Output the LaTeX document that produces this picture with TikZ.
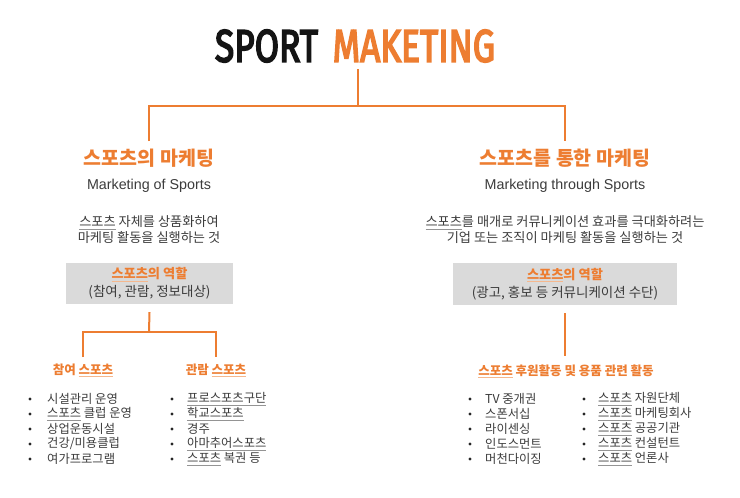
\documentclass[tikz,border=0pt]{standalone}
\usepackage{fontspec}
\usepackage{graphicx}
\setmainfont{Noto Sans CJK KR}
\newfontfamily\latinf{Liberation Sans}
\newfontfamily\titlef[FakeBold=4]{Fira Sans}
\definecolor{orng}{HTML}{ED7D31}
\definecolor{txt}{HTML}{3C3C3C}
\definecolor{boxg}{HTML}{DADADA}
\newcommand\sul[1]{{\setbox0=\hbox{#1}\rlap{\textcolor{.!55}{\rule[-2.4pt]{\wd0}{0.6pt}}}\box0}}
\tikzset{
  conn/.style={draw=orng, line width=2pt},
  head/.style={font=\fontsize{19.5}{22}\selectfont\bfseries, text=orng, inner sep=0},
  engsub/.style={font=\latinf\fontsize{14.3}{16}\selectfont, text=txt, inner sep=0},
  desc/.style={font=\fontsize{13.2}{16}\selectfont, text=txt, inner sep=0, align=center},
  rolebox/.style={fill=boxg, inner sep=0, align=center, font=\fontsize{13.5}{18}\selectfont, text=txt},
  subhead/.style={font=\fontsize{12.5}{14}\selectfont\bfseries, text=orng, inner sep=0},
  item/.style={font=\fontsize{12.3}{14}\selectfont, text=txt, inner sep=0, anchor=west},
  dot/.style={circle, fill=black!85, inner sep=0, minimum size=3.2pt},
}
\begin{document}
\begin{tikzpicture}[x=1pt,y=-1pt]
\useasboundingbox[fill=white] (0,0) rectangle (740,498);

% title
\node[inner sep=0] (title) at (355,46)
  {\resizebox{280pt}{32pt}{\titlef\textcolor{black!92}{SPORT}\hspace{0.15em} \textcolor{orng}{MAKETING}}};

\coordinate (j0) at (358,106);
\coordinate (l0) at (149,141);
\coordinate (r0) at (565,141);

% left branch
\node[head] (h1) at (149,158) {스포츠의 마케팅};
\node[engsub] (e1) at (149,186) {Marketing of Sports};
\node[desc] (d1) at (149,230) {\sul{스포츠} 자체를 상품화하여\\마케팅 활동을 실행하는 것};
\node[rolebox, minimum width=167pt, minimum height=41pt] (lbox) at (149.5,283.5)
  {\textcolor{orng}{\fontsize{13.2}{18}\selectfont\bfseries\sul{스포츠}의 역할}\\(참여, 관람, 정보대상)};

% right branch
\node[head] (h2) at (565,158) {스포츠를 통한 마케팅};
\node[engsub] (e2) at (565,186) {Marketing through Sports};
\node[desc] (d2) at (565,230) {\sul{스포츠}를 매개로 커뮤니케이션 효과를 극대화하려는\\기업 또는 조직이 마케팅 활동을 실행하는 것};
\node[rolebox, minimum width=224pt, minimum height=42pt] (rbox) at (565,284)
  {\textcolor{orng}{\fontsize{13.2}{18}\selectfont\bfseries\sul{스포츠}의 역할}\\(광고, 홍보 등 커뮤니케이션 수단)};

% top connectors
\draw[conn] ([yshift=-7pt]title.south -| j0) -- (j0);
\draw[conn] (l0) -- (l0 |- j0) -- (r0 |- j0) -- (r0);

% left sub-branch
\coordinate (lj) at (149,332);
\coordinate (s1top) at (83,357);
\coordinate (s2top) at (216,357);
\node[subhead] (s1) at (83,370) {참여 \sul{스포츠}};
\node[subhead] (s2) at (216,370) {관람 \sul{스포츠}};
\draw[conn] ([yshift=-8pt]lbox.south) -- (lj);
\draw[conn] (s1top) -- (s1top |- lj) -- (s2top |- lj) -- (s2top);

% right sub-branch
\coordinate (rtop) at (565,356);
\node[subhead] (s3) at (566,371) {\sul{스포츠} 후원활동 및 용품 관련 활동};
\draw[conn] ([yshift=-8pt]rbox.south) -- (rtop);

% lists
\foreach \t [count=\i] in {{시설관리 운영},{\sul{스포츠} 클럽 운영},{상업운동시설},{건강/미용클럽},{여가프로그램}}{
  \node[dot] (a\i) at (30,384+15*\i) {};
  \node[item] (at\i) at (47,384+15*\i) {\t};
}
\foreach \t [count=\i] in {{\sul{프로스포츠구단}},{\sul{학교스포츠}},{경주},{\sul{아마추어스포츠}},{\sul{스포츠} 복권 등}}{
  \node[dot] (b\i) at (172,384+15*\i) {};
  \node[item] (bt\i) at (187,384+15*\i) {\t};
}
\foreach \t [count=\i] in {{TV 중개권},{스폰서십},{라이센싱},{인도스먼트},{머천다이징}}{
  \node[dot] (c\i) at (470,384+15*\i) {};
  \node[item] (ct\i) at (485,384+15*\i) {\t};
}
\foreach \t [count=\i] in {{\sul{스포츠} 자원단체},{\sul{스포츠} 마케팅회사},{\sul{스포츠} 공공기관},{\sul{스포츠} 컨설턴트},{\sul{스포츠} 언론사}}{
  \node[dot] (g\i) at (584,384+15*\i) {};
  \node[item] (gt\i) at (598,384+15*\i) {\t};
}
\end{tikzpicture}
\end{document}
